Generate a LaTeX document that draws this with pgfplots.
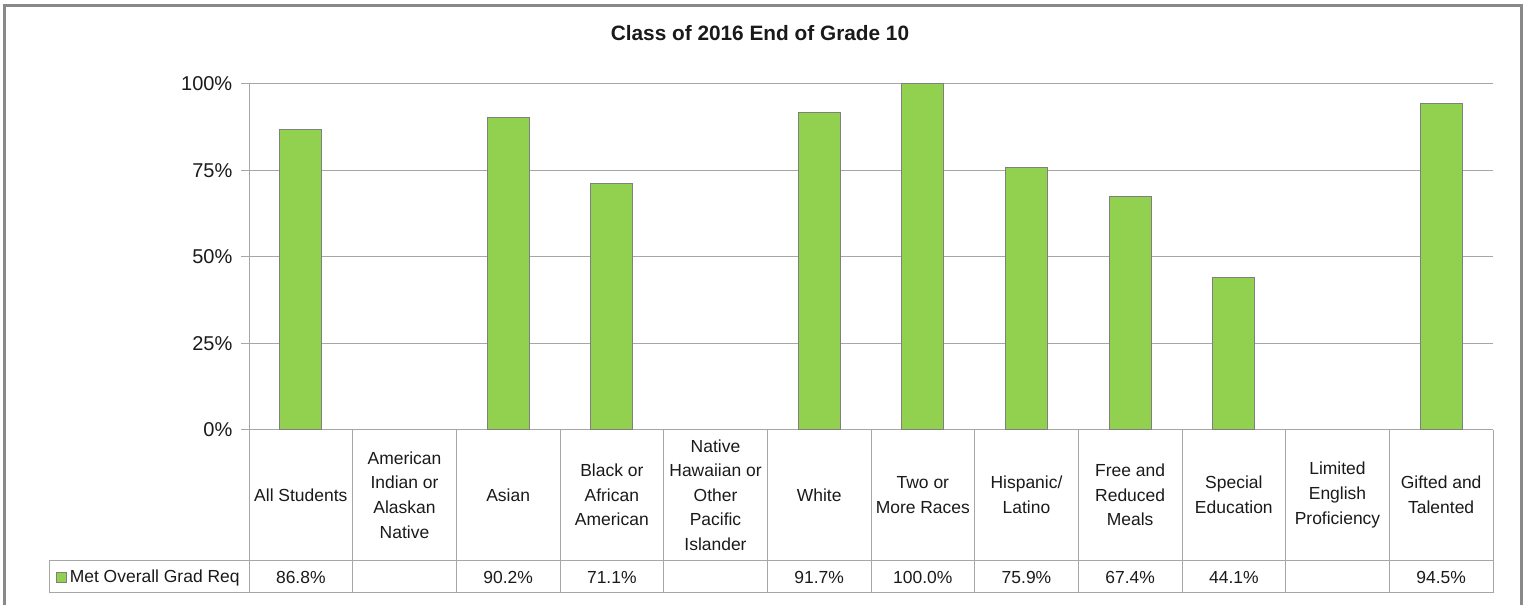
\documentclass[border=0pt]{standalone}
\usepackage{pgfplots}
\pgfplotsset{compat=1.18}
\usepackage{pgfplotstable}
\usepackage{fontspec}
\setmainfont{Liberation Sans}
\definecolor{barg}{HTML}{92D050}
\definecolor{bedge}{HTML}{7F7F7F}
\definecolor{gline}{HTML}{A6A6A6}
\definecolor{frm}{HTML}{898989}
\definecolor{txt}{HTML}{1A1A1A}
\pgfplotstableread{
x v
0 86.8
2 90.2
3 71.1
5 91.7
6 100.0
7 75.9
8 67.4
9 44.1
11 94.5
}\data
\begin{document}
\begin{tikzpicture}[x=0.75pt,y=0.75pt]
\path[use as bounding box] (0,0) rectangle (1525,605);
\draw[frm, line width=2pt] (4.5,-10) -- (4.5,599.5) -- (1521.5,599.5) -- (1521.5,-10);
\node[font=\bfseries\fontsize{15.6pt}{18pt}\selectfont, text=txt] at (760,572) {Class of 2016 End of Grade 10};
\begin{axis}[
  at={(186.75pt,131.25pt)}, anchor=south west, scale only axis,
  width=933pt, height=259.5pt,
  xmin=-0.5, xmax=11.5, ymin=0, ymax=100,
  clip=false,
  axis x line*=bottom, axis y line*=left,
  axis line style={gline, line width=0.75pt},
  /pgf/number format/assume math mode=true,
  ytick={0,25,50,75,100},
  yticklabel={\pgfmathprintnumber{\tick}\%},
  ymajorgrids, grid style={gline, line width=0.75pt},
  tick align=outside, major tick length=6pt,
  ytick style={gline, line width=0.75pt},
  yticklabel style={font=\fontsize{15pt}{18pt}\selectfont, text=txt, xshift=-3pt},
  xtick={0,...,11}, xtick style={draw=none},
  xticklabels={{All Students},{American\\Indian or\\Alaskan\\Native},{Asian},{Black or\\African\\American},{Native\\Hawaiian or\\Other\\Pacific\\Islander},{White},{Two or\\More Races},{Hispanic/\\Latino},{Free and\\Reduced\\Meals},{Special\\Education},{Limited\\English\\Proficiency},{Gifted and\\Talented}},
  xticklabel style={anchor=center, yshift=-42.75pt, align=center, font=\fontsize{13.1pt}{18.4pt}\selectfont, text=txt},
  legend style={at={(-0.155,-0.425)}, anchor=west, draw=none, fill=none, inner sep=0pt,
    font=\fontsize{13.1pt}{16pt}\selectfont, text=txt, legend cell align=left},
]
\addplot[ybar, bar width=31.5pt, fill=barg, draw=bedge, line width=0.75pt,
  legend image code/.code={\draw[fill=barg, draw=bedge, line width=0.5pt] (0pt,-3.75pt) rectangle (7.5pt,3.75pt);}]
  table[x=x, y=v]{\data};
\addlegendentry{Met Overall Grad Req}
\addplot[forget plot, only marks, mark=*, mark size=0pt, mark options={draw=none, fill=none},
  point meta=explicit,
  nodes near coords={\pgfmathprintnumber[fixed,fixed zerofill,precision=1]{\pgfplotspointmeta}\%},
  every node near coord/.append style={anchor=center, font=\fontsize{13.1pt}{16pt}\selectfont, text=txt}]
  table[x=x, y expr=-42.5, meta=v]{\data};
\end{axis}
\foreach \k in {0,...,12} \draw[gline, line width=0.75pt] ({249+\k*103.6667},175) -- ({249+\k*103.6667},12);
\draw[gline, line width=0.75pt] (49,44.3) -- (1493,44.3);
\draw[gline, line width=0.75pt] (49,12) -- (1493,12) ;
\draw[gline, line width=0.75pt] (49,12) -- (49,44.3);
\end{tikzpicture}
\end{document}
